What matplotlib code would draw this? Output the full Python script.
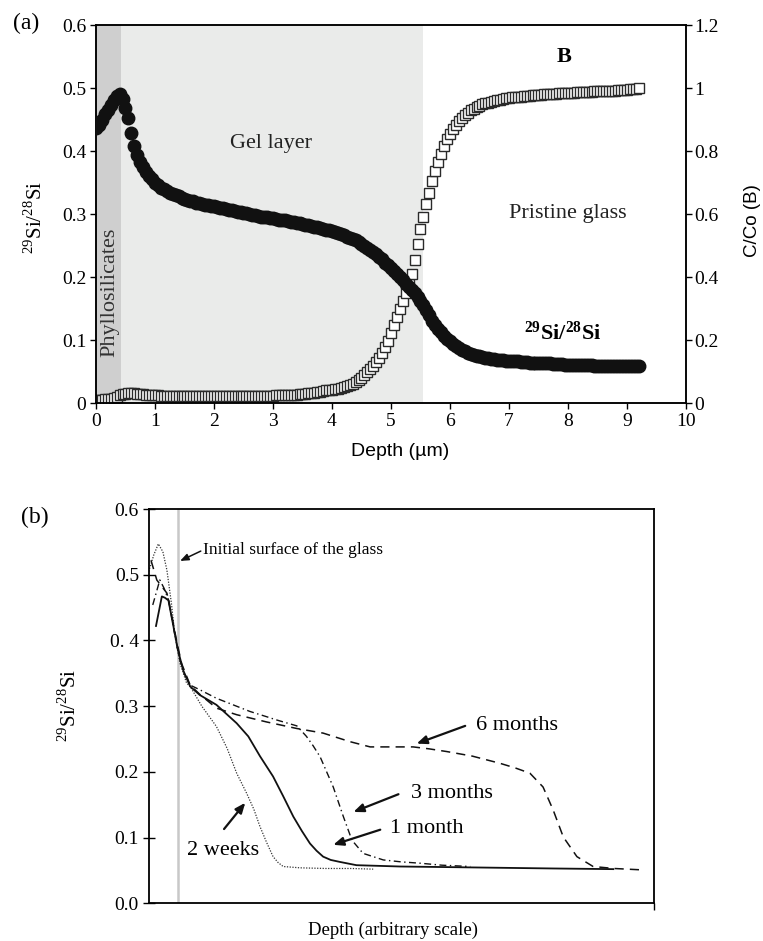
import numpy as np
import matplotlib
matplotlib.use("Agg")
import matplotlib.pyplot as plt

plt.rcParams['font.family'] = ['Liberation Serif', 'DejaVu Serif']
plt.rcParams['mathtext.fontset'] = 'custom'
plt.rcParams['mathtext.rm'] = 'Liberation Serif'
plt.rcParams['mathtext.bf'] = 'Liberation Serif:bold'

# ---- panel (a): depth profile, 0.05 um steps from 0 to 9.2 um
depth_a = np.round(np.arange(0, 9.2001, 0.05), 2)

si_ratio = [
    0.436, 0.442, 0.450, 0.458, 0.465, 0.473, 0.481, 0.488, 0.490, 0.482,
    0.468, 0.452, 0.428, 0.408, 0.394, 0.382, 0.374, 0.366, 0.360, 0.355,
    0.350, 0.346, 0.342, 0.339, 0.336, 0.334, 0.332, 0.330, 0.328, 0.326,
    0.324, 0.322, 0.321, 0.320, 0.318, 0.317, 0.316, 0.315, 0.314, 0.313,
    0.312, 0.311, 0.310, 0.309, 0.308, 0.307, 0.306, 0.305, 0.304, 0.303,
    0.302, 0.301, 0.300, 0.299, 0.298, 0.297, 0.296, 0.296, 0.295, 0.294,
    0.293, 0.292, 0.291, 0.291, 0.290, 0.289, 0.288, 0.287, 0.286, 0.285,
    0.284, 0.283, 0.282, 0.281, 0.280, 0.279, 0.278, 0.277, 0.275, 0.274,
    0.273, 0.271, 0.270, 0.268, 0.266, 0.264, 0.262, 0.260, 0.258, 0.255,
    0.253, 0.250, 0.246, 0.243, 0.240, 0.236, 0.232, 0.228, 0.223, 0.219,
    0.214, 0.210, 0.205, 0.200, 0.195, 0.189, 0.184, 0.179, 0.174, 0.168,
    0.162, 0.155, 0.147, 0.139, 0.131, 0.124, 0.118, 0.112, 0.107, 0.102,
    0.098, 0.094, 0.090, 0.087, 0.084, 0.082, 0.080, 0.078, 0.076, 0.075,
    0.074, 0.073, 0.072, 0.071, 0.070, 0.070, 0.069, 0.068, 0.068, 0.067,
    0.067, 0.066, 0.066, 0.066, 0.065, 0.065, 0.065, 0.064, 0.064, 0.064,
    0.064, 0.063, 0.063, 0.063, 0.063, 0.062, 0.062, 0.062, 0.062, 0.061,
    0.061, 0.061, 0.061, 0.060, 0.060, 0.060, 0.060, 0.060, 0.060, 0.059,
    0.059, 0.059, 0.059, 0.059, 0.059, 0.058, 0.058, 0.058, 0.058, 0.058,
    0.058, 0.058, 0.058, 0.058, 0.058,
]

boron = [
    0.011, 0.011, 0.011, 0.012, 0.012, 0.013, 0.015, 0.019, 0.024, 0.028,
    0.030, 0.031, 0.031, 0.031, 0.030, 0.029, 0.028, 0.027, 0.026, 0.025,
    0.024, 0.024, 0.023, 0.023, 0.023, 0.022, 0.022, 0.022, 0.022, 0.022,
    0.021, 0.021, 0.021, 0.021, 0.021, 0.021, 0.021, 0.021, 0.021, 0.021,
    0.021, 0.021, 0.021, 0.021, 0.021, 0.021, 0.021, 0.021, 0.021, 0.021,
    0.022, 0.022, 0.022, 0.022, 0.022, 0.022, 0.022, 0.023, 0.023, 0.023,
    0.023, 0.024, 0.024, 0.024, 0.025, 0.025, 0.026, 0.026, 0.027, 0.028,
    0.029, 0.030, 0.031, 0.032, 0.033, 0.035, 0.036, 0.038, 0.040, 0.042,
    0.041, 0.043, 0.045, 0.048, 0.051, 0.054, 0.057, 0.061, 0.066, 0.072,
    0.080, 0.088, 0.097, 0.107, 0.118, 0.130, 0.144, 0.160, 0.178, 0.198,
    0.222, 0.247, 0.273, 0.300, 0.325, 0.350, 0.377, 0.410, 0.455, 0.505,
    0.553, 0.590, 0.632, 0.668, 0.705, 0.737, 0.765, 0.790, 0.815, 0.837,
    0.855, 0.870, 0.884, 0.895, 0.905, 0.914, 0.922, 0.929, 0.935, 0.940,
    0.944, 0.948, 0.951, 0.954, 0.957, 0.959, 0.961, 0.963, 0.965, 0.967,
    0.968, 0.970, 0.971, 0.972, 0.973, 0.974, 0.975, 0.976, 0.977, 0.978,
    0.979, 0.979, 0.980, 0.981, 0.981, 0.982, 0.982, 0.983, 0.983, 0.984,
    0.984, 0.985, 0.985, 0.986, 0.986, 0.987, 0.987, 0.988, 0.988, 0.989,
    0.989, 0.990, 0.990, 0.991, 0.991, 0.992, 0.992, 0.993, 0.993, 0.994,
    0.995, 0.996, 0.997, 0.998, 0.999,
]

phyllo_end = 0.42
gel_end = 5.55

# ---- panel (b): arbitrary depth scale 0..100
x_2w = [0, 1.0, 1.9, 2.8, 3.6, 4.5, 5.2, 6.2, 7.5, 8.2, 10.5, 13.4, 15.5, 17.4,
        19.4, 20.8, 22.0, 23.3, 24.6, 25.6, 26.6, 29.9, 35, 40, 44.4]
y_2w = [0.505, 0.530, 0.547, 0.535, 0.507, 0.456, 0.406, 0.365, 0.335, 0.330,
        0.300, 0.269, 0.236, 0.198, 0.167, 0.143, 0.117, 0.093, 0.071, 0.062,
        0.056, 0.054, 0.053, 0.053, 0.052]

x_1m = [1.44, 2.6, 3.2, 3.9, 4.9, 5.8, 6.8, 8.2, 10.1, 13.4, 17.4, 19.7, 22.0,
        24.6, 26.6, 28.6, 30.3, 31.9, 33.2, 34.5, 36.0, 37.8, 41.1, 49.7, 60,
        70, 80, 91.9]
y_1m = [0.422, 0.467, 0.465, 0.461, 0.421, 0.385, 0.355, 0.330, 0.317, 0.302,
        0.274, 0.254, 0.224, 0.193, 0.163, 0.132, 0.110, 0.091, 0.080, 0.071,
        0.066, 0.063, 0.058, 0.056, 0.055, 0.054, 0.053, 0.052]

x_3m = [0.8, 2.2, 3.0, 4.0, 5.0, 6.0, 7.0, 8.2, 10.1, 13.4, 16.7, 20.0, 23.3,
        25.3, 29.3, 31.2, 32.5, 33.9, 35.2, 36.5, 38.5, 40.2, 42.4, 46.4, 50,
        53.7, 58, 63.6]
y_3m = [0.454, 0.492, 0.480, 0.460, 0.415, 0.375, 0.350, 0.332, 0.325, 0.312,
        0.302, 0.292, 0.284, 0.279, 0.270, 0.254, 0.240, 0.223, 0.200, 0.177,
        0.132, 0.096, 0.076, 0.066, 0.063, 0.061, 0.058, 0.056]

x_6m = [0.45, 1.6, 3.6, 4.5, 5.5, 6.5, 8.2, 10.1, 13.4, 17.4, 23.3, 29.3, 34.5,
        39.8, 43.8, 49.7, 52.3, 55.5, 58.9, 64, 69.5, 72.5, 75.4, 78.0, 80.0,
        82.0, 84.7, 87.9, 92, 97.2]
y_6m = [0.522, 0.492, 0.472, 0.440, 0.400, 0.365, 0.332, 0.318, 0.297, 0.287,
        0.276, 0.266, 0.259, 0.246, 0.238, 0.238, 0.238, 0.235, 0.231, 0.224,
        0.213, 0.206, 0.198, 0.177, 0.142, 0.101, 0.071, 0.056, 0.053, 0.051]

initial_surface = 5.8
b_yticks = [0.0, 0.1, 0.2, 0.3, 0.4, 0.5, 0.6]
b_yticklabels = ['0.0', '0.1', '0.2', '0.3', '0. 4', '0.5', '0.6']

fig = plt.figure(figsize=(7.63, 9.41), dpi=100)

# ================= (a)
ax = fig.add_axes([0.1258, 0.5717, 0.7732, 0.4017])
ax2 = ax.twinx()
# gray zones on the lower (twin) axes, so both series sit above them
ax2.axvspan(0, phyllo_end, color='#cfcfcf', lw=0, zorder=0)
ax2.axvspan(phyllo_end, gel_end, color='#eaebea', lw=0, zorder=0)

ax.plot(depth_a, si_ratio, 'o', color='#111111', ms=9, mec='#111111', zorder=3)
ax2.plot(depth_a, boron, 's', mfc='white', mec='#2a2a2a', ms=6.5, mew=1.0, zorder=2)

ax.set_xlim(0, 10)
ax.set_ylim(0, 0.6)
ax2.set_ylim(0, 1.2)
ax.set_xticks(range(0, 11))
ax.set_yticks([0, 0.1, 0.2, 0.3, 0.4, 0.5, 0.6])
ax.set_yticklabels(['0', '0.1', '0.2', '0.3', '0.4', '0.5', '0.6'])
ax2.set_yticks([0, 0.2, 0.4, 0.6, 0.8, 1.0, 1.2])
ax2.set_yticklabels(['0', '0.2', '0.4', '0.6', '0.8', '1', '1.2'])
ax.tick_params(axis='both', direction='out', length=4, width=1, labelsize=14, pad=3)
ax2.tick_params(axis='y', direction='out', length=4, width=1, labelsize=14, pad=2)
for a in (ax, ax2):
    for s in a.spines.values():
        s.set_linewidth(1.1)
ax.set_zorder(ax2.get_zorder() + 1)
ax.patch.set_visible(False)

ax.text(2.97, 0.412, 'Gel layer', fontsize=16, ha='center', va='center', color='#222222')
ax.text(7.99, 0.301, 'Pristine glass', fontsize=16, ha='center', va='center', color='#222222')
ax.text(7.94, 0.549, 'B', fontsize=16, fontweight='bold', ha='center', va='center')
ax.text(7.92, 0.111, r'$\mathbf{^{29}Si/^{28}Si}$', fontsize=16, ha='center', va='center')
ax.text(0.237, 0.176, 'Phyllosilicates', fontsize=16, rotation=90,
        ha='center', va='center', color='#333333')

fig.text(0.034, 0.9756, '(a)', fontsize=17, ha='center', va='center')
fig.text(0.046, 0.769, r'$^{29}$Si/$^{28}$Si', fontsize=15, rotation=90,
         ha='center', va='center')
fig.text(0.9856, 0.766, 'C/Co (B)', fontsize=13.5, rotation=90, ha='center',
         va='center', family=['Liberation Sans', 'DejaVu Sans'])
fig.text(0.524, 0.5197, 'Depth (µm)', fontsize=14, ha='center', va='center',
         family=['Liberation Sans', 'DejaVu Sans'])

# ================= (b)
bx = fig.add_axes([0.1949, 0.04006, 0.6626, 0.419])
bx.axvline(initial_surface, color='#c8c8c8', lw=1.8, zorder=1)
bx.plot(x_2w, y_2w, color='#333333', lw=0.9, ls=(0, (1, 1.2)))
bx.plot(x_1m, y_1m, color='#111111', lw=1.3, ls='-')
bx.plot(x_3m, y_3m, color='#111111', lw=1.0, ls=(0, (5, 2.5, 1, 2.5)))
bx.plot(x_6m, y_6m, color='#111111', lw=1.1, ls=(0, (6, 4)))

bx.set_xlim(0, 100)
bx.set_ylim(0, 0.6)
bx.set_yticks(b_yticks)
bx.set_yticklabels(b_yticklabels)
bx.set_xticks([100])
bx.set_xticklabels([''])
bx.tick_params(axis='y', direction='inout', length=8, width=1, labelsize=14, pad=3)
bx.tick_params(axis='x', direction='out', length=5, width=1)
for s in bx.spines.values():
    s.set_linewidth(1.3)

arrow = dict(arrowstyle='-|>,head_length=0.6,head_width=0.25', color='#111111', lw=1.6,
             shrinkA=0, shrinkB=0)
bx.annotate('', xy=(6.2, 0.521), xytext=(10.3, 0.536),
            arrowprops=dict(arrowstyle='-|>,head_length=0.5,head_width=0.2',
                            color='#111111', lw=1.1, shrinkA=0, shrinkB=0))
bx.text(10.7, 0.538, 'Initial surface of the glass', fontsize=12.5, ha='left', va='center')

bx.annotate('', xy=(19.1, 0.153), xytext=(14.9, 0.113), arrowprops=arrow)
bx.text(14.7, 0.081, '2 weeks', fontsize=16, ha='center', va='center')
bx.annotate('', xy=(36.5, 0.089), xytext=(45.8, 0.112), arrowprops=arrow)
bx.text(55.0, 0.114, '1 month', fontsize=16, ha='center', va='center')
bx.annotate('', xy=(40.5, 0.139), xytext=(49.4, 0.166), arrowprops=arrow)
bx.text(59.9, 0.167, '3 months', fontsize=16, ha='center', va='center')
bx.annotate('', xy=(53.0, 0.243), xytext=(62.6, 0.270), arrowprops=arrow)
bx.text(72.8, 0.271, '6 months', fontsize=16, ha='center', va='center')

fig.text(0.046, 0.4506, '(b)', fontsize=17, ha='center', va='center')
fig.text(0.0917, 0.2508, r'$^{29}$Si/$^{28}$Si', fontsize=15, rotation=90,
         ha='center', va='center')
fig.text(0.515, 0.0117, 'Depth (arbitrary scale)', fontsize=13.5, ha='center', va='center')

fig.savefig('out.png', dpi=100)
